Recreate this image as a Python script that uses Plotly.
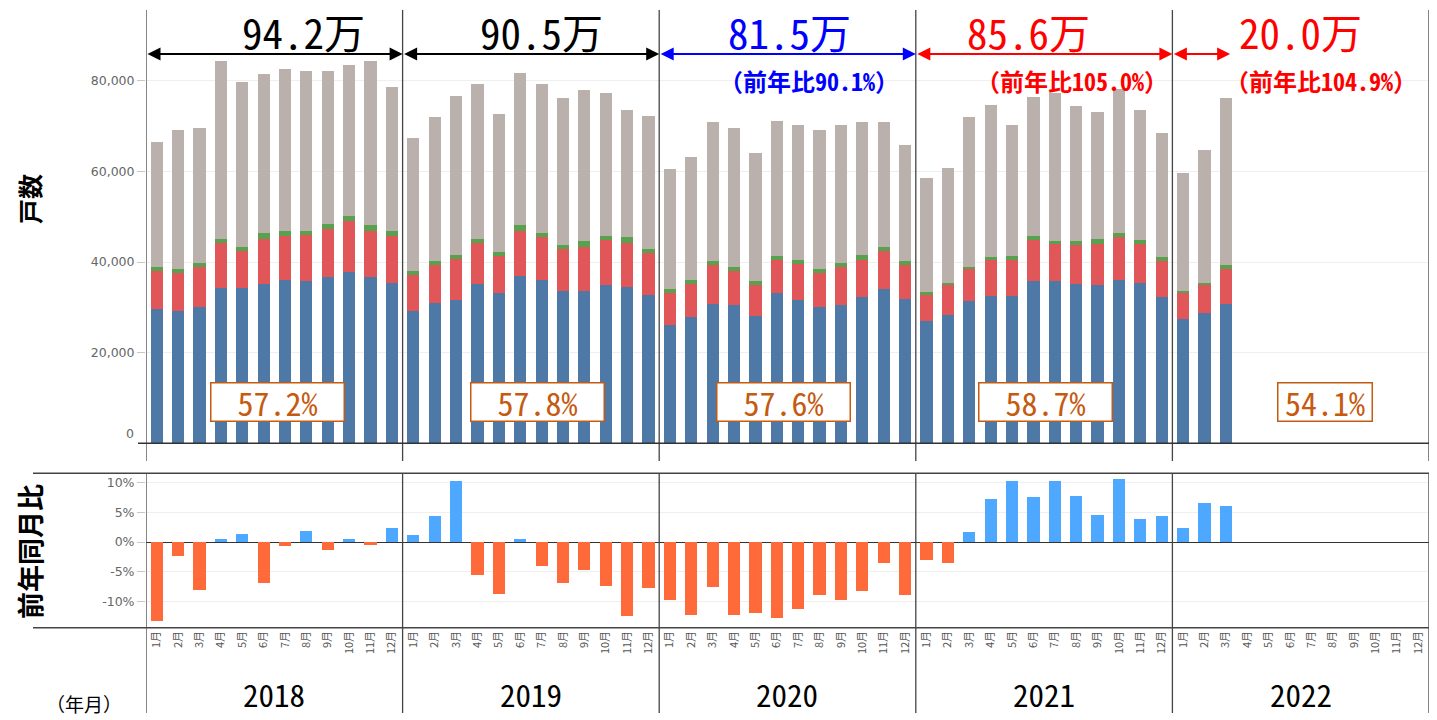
import plotly.graph_objects as go

W, H = 1437, 720

years = ["2018", "2019", "2020", "2021", "2022"]
month_labels = ["1月", "2月", "3月", "4月", "5月", "6月", "7月", "8月", "9月", "10月", "11月", "12月"]

# 戸数: stacked segments, bottom to top (Jan 2018 .. Mar 2022)
seg_blue = [
    29590, 29290, 30180, 34300, 34300, 35180, 36060, 35770, 36650, 37830, 36650, 35470,
    29290, 31060, 31650, 35180, 33120, 36950, 36060, 33710, 33710, 34890, 34590, 32830,
    26050, 27820, 30770, 30470, 28120, 33120, 31650, 30180, 30470, 32240, 34000, 31940,
    26940, 28410, 31350, 32530, 32530, 35770, 35770, 35180, 34890, 36060, 35470, 32240,
    27530, 28700, 30770]
seg_red = [
    8540, 8250, 8830, 10010, 8240, 10010, 9720, 10300, 10600, 11190, 10310, 10310,
    7950, 8240, 9120, 9130, 8240, 10010, 9420, 9130, 9710, 10010, 9720, 9120,
    7070, 7360, 8530, 7660, 6770, 7360, 7950, 7360, 8540, 8240, 8540, 7360,
    5890, 6480, 7070, 7950, 7950, 9130, 8240, 8540, 9120, 9420, 8540, 7950,
    5590, 6190, 7650]
seg_green = [
    880, 880, 880, 880, 880, 1180, 1180, 890, 1180, 1180, 1170, 1180,
    890, 890, 890, 880, 890, 1170, 890, 880, 1180, 880, 1170, 890,
    880, 880, 890, 890, 880, 880, 880, 880, 880, 1180, 880, 890,
    580, 590, 590, 590, 880, 880, 590, 880, 1180, 890, 890, 880,
    590, 590, 880]
seg_gray = [
    27460, 30690, 29810, 39300, 36360, 35180, 35770, 35180, 33710, 33410, 36360, 31640,
    29220, 31860, 35100, 34220, 30390, 33640, 33040, 32460, 33340, 31570, 28050, 29510,
    26570, 27160, 30690, 30690, 28340, 29810, 29810, 30690, 30400, 29220, 27460, 25680,
    25100, 25390, 33040, 33630, 28930, 30690, 32750, 29810, 28040, 31870, 28630, 27450,
    25980, 29220, 36880]

# 前年同月比 (%)
yoy = [
    -13.3, -2.4, -8.0, 0.45, 1.4, -6.9, -0.6, 1.8, -1.3, 0.45, -0.45, 2.3,
    1.1, 4.3, 10.2, -5.6, -8.7, 0.45, -4.0, -6.9, -4.7, -7.4, -12.5, -7.8,
    -9.8, -12.3, -7.6, -12.3, -11.9, -12.75, -11.2, -8.9, -9.8, -8.3, -3.5, -8.9,
    -3.1, -3.5, 1.7, 7.25, 10.2, 7.5, 10.2, 7.7, 4.55, 10.6, 3.9, 4.3,
    2.3, 6.6, 6.1]

annual_total = ["94.2万", "90.5万", "81.5万", "85.6万", "20.0万"]
annual_ratio = ["", "", "（前年比90.1%）", "（前年比105.0%）", "（前年比104.9%）"]
share = ["57.2%", "57.8%", "57.6%", "58.7%", "54.1%"]

year_colors = ["#000000", "#000000", "#0000ff", "#ff0000", "#ff0000"]
MONO = "Noto Sans Mono CJK JP, Noto Sans CJK JP, sans-serif"
CJK = "Noto Sans CJK JP, sans-serif"


def px(x):
    return x / W


def py(y):
    return 1 - y / H


idx = list(range(len(seg_blue)))
x_lo, x_hi = 146, 1429

fig = go.Figure()
for name, vals, col in [("A", seg_blue, "#4e79a7"), ("B", seg_red, "#e15759"),
                        ("C", seg_green, "#59a14f"), ("D", seg_gray, "#bab0ac")]:
    fig.add_trace(go.Bar(x=idx, y=vals, name=name, marker_color=col,
                         marker_line_width=0, xaxis="x", yaxis="y"))

fig.add_trace(go.Bar(x=idx, y=yoy, name="前年同月比",
                     marker_color=["#4fa8ff" if v >= 0 else "#ff6a3a" for v in yoy],
                     marker_line_width=0, xaxis="x2", yaxis="y2"))

tick_font = dict(family="DejaVu Sans, sans-serif", size=12.5, color="#666")

fig.update_layout(
    width=W, height=H,
    margin=dict(l=0, r=0, t=0, b=0),
    paper_bgcolor="white", plot_bgcolor="white",
    barmode="stack", bargap=0.43, showlegend=False,
    font=dict(family=CJK),
    xaxis=dict(domain=[px(x_lo), px(x_hi)], range=[-0.5, 59.5],
               showticklabels=False, showgrid=False, zeroline=False, ticks=""),
    yaxis=dict(domain=[py(443.3), py(10)], range=[0, 95650],
               tickvals=[20000, 40000, 60000, 80000], tickformat=",",
               ticks="outside", ticklen=8, tickcolor="#c8c8c8",
               showgrid=True, gridcolor="#efefef", zeroline=False,
               tickfont=tick_font),
    xaxis2=dict(domain=[px(x_lo), px(x_hi)], range=[-0.5, 59.5], anchor="y2",
                tickvals=list(range(60)), ticktext=month_labels * 5,
                tickangle=-90, ticks="", showgrid=False, zeroline=False,
                tickfont=dict(family=CJK, size=11, color="#555")),
    yaxis2=dict(domain=[py(627.7), py(473.3)], range=[-14.4, 11.55], anchor="x2",
                tickvals=[-10, -5, 0, 5, 10],
                ticktext=["-10%", "-5%", "0%", "5%", "10%"],
                ticks="outside", ticklen=8, tickcolor="#c8c8c8",
                showgrid=True, gridcolor="#efefef",
                zeroline=True, zerolinecolor="#333", zerolinewidth=1.2,
                tickfont=tick_font),
)

shapes = []
line_col = "#444"
# year separators
for i in range(6):
    xv = 12 * i - 0.5
    shapes.append(dict(type="line", xref="x", yref="paper", x0=xv, x1=xv,
                       y0=py(461), y1=py(10), line=dict(color=line_col, width=1.3)))
    shapes.append(dict(type="line", xref="x", yref="paper", x0=xv, x1=xv,
                       y0=py(713), y1=py(473.3), line=dict(color=line_col, width=1.3)))
# zero line of upper chart, borders of lower chart
shapes.append(dict(type="line", xref="paper", yref="paper", x0=px(138), x1=px(x_hi),
                   y0=py(443.3), y1=py(443.3), line=dict(color="#333", width=1.5)))
for yy in (473.3, 627.7):
    shapes.append(dict(type="line", xref="paper", yref="paper", x0=px(33), x1=px(x_hi),
                       y0=py(yy), y1=py(yy), line=dict(color=line_col, width=1.5)))
fig.update_layout(shapes=shapes)

ann = []
total_x = [303, 541, 789, 1028, 1300]
ratio_x = [0, 0, 809, 1072, 1321]
box_x = [277, 537, 783, 1045, 1324.5]
arrow_end = [11.5, 23.5, 35.5, 47.5, 50.2]


def label(x, y, text, font, **kw):
    d = dict(xref="paper", yref="paper", x=x, y=y, text=text, showarrow=False,
             xanchor="center", yanchor="middle", font=font)
    d.update(kw)
    return d


for i, yr in enumerate(years):
    c = year_colors[i]
    ann.append(dict(xref="x", yref="paper", x=arrow_end[i], y=py(54),
                    axref="x", ayref="pixel", ax=12 * i - 0.5, ay=0, text="",
                    showarrow=True, arrowside="end+start", arrowhead=2, startarrowhead=2,
                    arrowsize=1.3, startarrowsize=1.3, arrowwidth=2, arrowcolor=c))
    ann.append(label(px(total_x[i]), py(31), annual_total[i],
                     dict(family=MONO, size=41, color=c)))
    if annual_ratio[i]:
        ann.append(label(px(ratio_x[i]), py(80), "<b>" + annual_ratio[i] + "</b>",
                         dict(family=MONO, size=24, color=c)))
    ann.append(label(px(box_x[i]), py(401.5), share[i],
                     dict(family=MONO, size=32, color="#c55a11"),
                     width=130 if i < 4 else 91, height=35, borderpad=1,
                     bordercolor="#c55a11", borderwidth=1.5, bgcolor="white"))
    ann.append(label(px(x_lo + (12 * i + 6) * (x_hi - x_lo) / 60), py(693), yr,
                     dict(family=MONO, size=31, color="#000")))

ann.append(label(px(136), py(433), "0", tick_font, xanchor="right"))
ann.append(label(px(29), py(199), "<b>戸数</b>",
                 dict(family=CJK, size=25, color="#000"), textangle=-90))
ann.append(label(px(29), py(552), "<b>前年同月比</b>",
                 dict(family=CJK, size=27, color="#000"), textangle=-90))
ann.append(label(px(84), py(703), "（年月）", dict(family=MONO, size=19, color="#000")))
fig.update_layout(annotations=ann)

fig.write_html("out.html", config={"displayModeBar": False},
               post_script="document.body.style.margin='0';")
